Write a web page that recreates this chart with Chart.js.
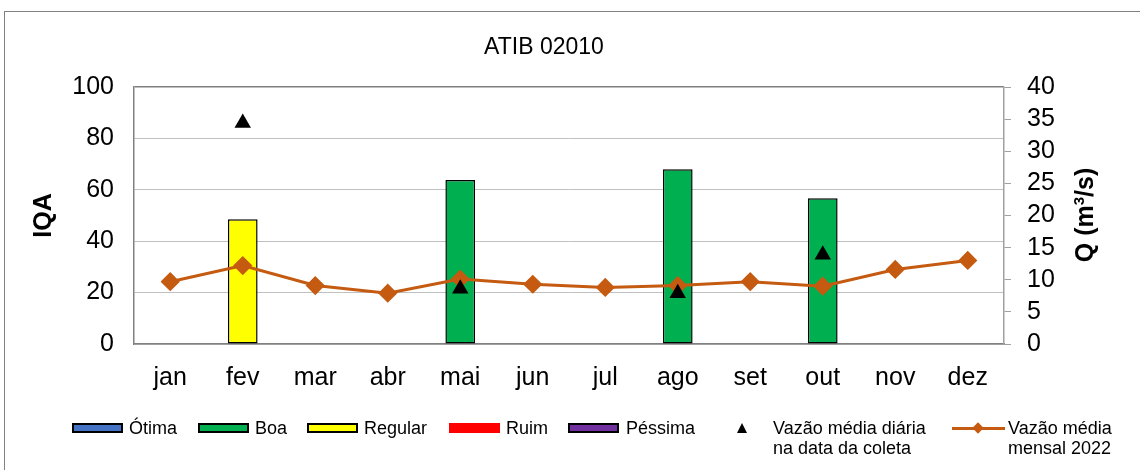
<!DOCTYPE html>
<html>
<head>
<meta charset="utf-8">
<script src="https://cdn.jsdelivr.net/npm/chart.js@4/dist/chart.umd.min.js"></script>
<style>
  body { margin: 0; background: #fff; font-family: "Liberation Sans", Arial, sans-serif; }
  #wrap { position: relative; width: 1140px; height: 470px; overflow: hidden; }
  #frame { position: absolute; left: 4px; top: 11px; width: 1200px; height: 500px; border: 1px solid #808080; }
  canvas { position: absolute; left: 0; top: 0; }
  .leg { position: absolute; font-size: 18px; color: #000; line-height: 20px; white-space: nowrap; }
  .box { position: absolute; box-sizing: border-box; width: 51px; height: 10px; border: 2px solid #000; }
  #title { position: absolute; left: 444px; top: 32px; width: 200px; text-align: center; font-size: 23px; line-height: 28px; }
  #qtitle { position: absolute; left: 984px; top: 200px; width: 200px; height: 30px; line-height: 30px; text-align: center;
            font-size: 25px; font-weight: bold; transform: rotate(-90deg); }
</style>
</head>
<body>
<div id="wrap">
  <div id="frame"></div>
  <canvas id="myChart" width="1140" height="470"></canvas>
  <div id="title">ATIB 02010</div>
  <div id="qtitle">Q (m<sup style="font-size:15px;line-height:0">3</sup>/s)</div>

  <div class="box" style="left:72px;top:423px;background:#4472c4"></div>
  <div class="leg" style="left:129px;top:418px">Ótima</div>
  <div class="box" style="left:198px;top:423px;background:#00b050"></div>
  <div class="leg" style="left:255px;top:418px">Boa</div>
  <div class="box" style="left:307px;top:423px;background:#ffff00"></div>
  <div class="leg" style="left:364px;top:418px">Regular</div>
  <div class="box" style="left:449px;top:423px;background:#ff0000;border-color:#ff0000"></div>
  <div class="leg" style="left:506px;top:418px">Ruim</div>
  <div class="box" style="left:568px;top:423px;background:#7030a0"></div>
  <div class="leg" style="left:626px;top:418px">Péssima</div>
  <div style="position:absolute;left:737px;top:423px;width:0;height:0;border-left:5.5px solid transparent;border-right:5.5px solid transparent;border-bottom:10px solid #000"></div>
  <div class="leg" style="left:773px;top:418px">Vazão média diária<br>na data da coleta</div>
  <div style="position:absolute;left:952px;top:427px;width:53px;height:3px;background:#c55a11"></div>
  <div style="position:absolute;left:974px;top:424px;width:8px;height:8px;background:#c55a11;transform:rotate(45deg)"></div>
  <div class="leg" style="left:1008px;top:418px">Vazão média<br>mensal 2022</div>
</div>
<script>
const months = ['jan', 'fev', 'mar', 'abr', 'mai', 'jun', 'jul', 'ago', 'set', 'out', 'nov', 'dez'];

// IQA por categoria
const iqaOtima    = [null, null, null, null, null, null, null, null, null, null, null, null];
const iqaBoa      = [null, null, null, null, 63.8, null, null, 68.0, null, 56.7, null, null];
const iqaRegular  = [null, 48.5, null, null, null, null, null, null, null, null, null, null];
const iqaRuim     = [null, null, null, null, null, null, null, null, null, null, null, null];
const iqaPessima  = [null, null, null, null, null, null, null, null, null, null, null, null];

// vazões (m3/s)
const vazaoDiaria = [null, 34.4, null, null, 8.6, null, null, 7.9, null, 13.9, null, null];
const vazaoMensal = [9.7, 12.2, 9.1, 7.9, 10.1, 9.3, 8.8, 9.1, 9.7, 9.0, 11.6, 13.0];

const iqaTicks = [0, 20, 40, 60, 80, 100];
const qTicks = [0, 5, 10, 15, 20, 25, 30, 35, 40];

const fontFam = '"Liberation Sans", Arial, sans-serif';

function barSet(label, values, color, border) {
  return {
    type: 'bar',
    label: label,
    data: values,
    backgroundColor: color,
    borderColor: border,
    borderWidth: 1.5,
    borderSkipped: false,
    grouped: false,
    barPercentage: 0.41,
    categoryPercentage: 1.0,
    yAxisID: 'y',
    order: 2
  };
}

const data = {
  labels: months,
  datasets: [
    barSet('Ótima', iqaOtima, '#4472c4', '#000'),
    barSet('Boa', iqaBoa, '#00b050', '#000'),
    barSet('Regular', iqaRegular, '#ffff00', '#000'),
    barSet('Ruim', iqaRuim, '#ff0000', '#ff0000'),
    barSet('Péssima', iqaPessima, '#7030a0', '#000'),
    {
      type: 'line',
      label: 'Vazão média diária na data da coleta',
      data: vazaoDiaria,
      showLine: false,
      pointStyle: 'triangle',
      pointRadius: 9.5,
      pointBackgroundColor: '#000',
      pointBorderColor: '#000',
      pointBorderWidth: 0,
      yAxisID: 'q',
      order: 0
    },
    {
      type: 'line',
      label: 'Vazão média mensal 2022',
      data: vazaoMensal,
      borderColor: '#c55a11',
      borderWidth: 3,
      pointStyle: 'rectRot',
      pointRadius: 7.5,
      pointBackgroundColor: '#c55a11',
      pointBorderColor: '#c55a11',
      tension: 0,
      yAxisID: 'q',
      order: 1
    }
  ]
};

const config = {
  data: data,
  options: {
    responsive: false,
    animation: false,
    layout: { padding: { top: 87, left: 0, right: 0, bottom: 0 } },
    plugins: {
      legend: { display: false },
      tooltip: { enabled: false },
      title: { display: false }
    },
    scales: {
      x: {
        grid: { display: false, drawTicks: false },
        border: { color: '#808080', width: 1.5 },
        ticks: { color: '#000', font: { family: fontFam, size: 25 }, padding: 19, autoSkip: false, maxRotation: 0 },
        afterFit: (s) => { s.height = 126; }
      },
      y: {
        position: 'left',
        min: 0,
        max: 100,
        afterBuildTicks: (s) => { s.ticks = iqaTicks.map(v => ({ value: v })); },
        grid: {
          drawTicks: false,
          color: (c) => c.tick && c.tick.value === 100 ? '#808080' : '#c0c0c0',
          lineWidth: (c) => c.tick && c.tick.value === 100 ? 1.5 : 1
        },
        border: { color: '#808080', width: 1.5 },
        ticks: { color: '#000', font: { family: fontFam, size: 25 }, padding: 20, autoSkip: false },
        title: {
          display: true,
          text: 'IQA',
          color: '#000',
          font: { family: fontFam, size: 25, weight: 'bold' },
          padding: { top: 29, bottom: 0 }
        },
        afterFit: (s) => { s.width = 134; }
      },
      q: {
        position: 'right',
        min: 0,
        max: 40,
        afterBuildTicks: (s) => { s.ticks = qTicks.map(v => ({ value: v })); },
        grid: { drawOnChartArea: false, tickLength: 7, color: '#a0a0a0' },
        border: { color: '#a0a0a0', width: 1.5 },
        ticks: { color: '#000', font: { family: fontFam, size: 25 }, padding: 16, autoSkip: false },
        afterFit: (s) => { s.width = 136; }
      }
    }
  }
};

const myChart = new Chart(document.getElementById('myChart'), config);
</script>
</body>
</html>
